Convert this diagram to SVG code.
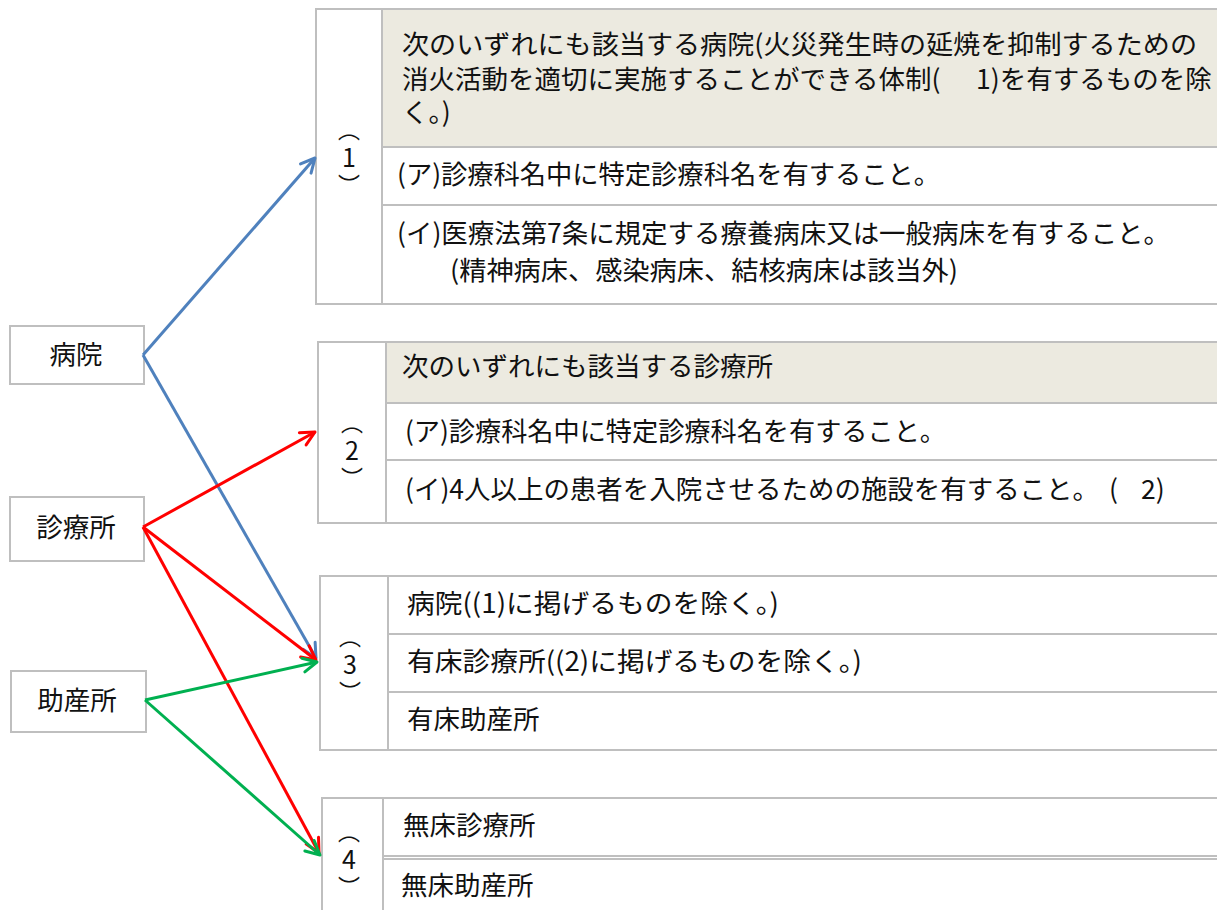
<svg xmlns="http://www.w3.org/2000/svg" width="1217" height="910" viewBox="0 0 1217 910">
<style>
text{font-family:"Noto Sans CJK JP","Noto Sans CJK SC",sans-serif;font-size:26.5px;fill:#111}
.box{fill:#fff;stroke:#BFBFBF;stroke-width:2}
.hdr{fill:#ECEAE0;stroke:none}
.ln{stroke:#BFBFBF;stroke-width:2;fill:none}
.mid{text-anchor:middle}
.vnum{font-size:22px;writing-mode:vertical-rl;text-orientation:upright;text-anchor:middle;letter-spacing:-2px}
.dg{font-size:25px}
.conn line{stroke-width:3;fill:none}
.b{stroke:#4F81BD}
.r{stroke:#FF0000}
.g{stroke:#00B050}
</style>
<defs>
<marker id="mb" viewBox="-16 -10 20 20" refX="0" refY="0" markerWidth="20" markerHeight="20" markerUnits="userSpaceOnUse" orient="auto"><path d="M-14,-7 L0,0 L-14,7" fill="none" stroke="#4F81BD" stroke-width="3" stroke-linecap="round" stroke-linejoin="round"/></marker>
<marker id="mr" viewBox="-16 -10 20 20" refX="0" refY="0" markerWidth="20" markerHeight="20" markerUnits="userSpaceOnUse" orient="auto"><path d="M-14,-7 L0,0 L-14,7" fill="none" stroke="#FF0000" stroke-width="3" stroke-linecap="round" stroke-linejoin="round"/></marker>
<marker id="mg" viewBox="-16 -10 20 20" refX="0" refY="0" markerWidth="20" markerHeight="20" markerUnits="userSpaceOnUse" orient="auto"><path d="M-14,-7 L0,0 L-14,7" fill="none" stroke="#00B050" stroke-width="3" stroke-linecap="round" stroke-linejoin="round"/></marker>
</defs>
<rect width="1217" height="910" fill="#fff"/>

<g id="table1">
<rect class="box" x="316" y="9" width="930" height="295"/>
<rect class="hdr" x="383" y="10" width="860" height="137"/>
<line class="ln" x1="382" y1="9" x2="382" y2="304"/>
<line class="ln" x1="382" y1="147" x2="1246" y2="147"/>
<line class="ln" x1="382" y1="205" x2="1246" y2="205"/>
<text x="402" y="54" textLength="795" lengthAdjust="spacingAndGlyphs">次のいずれにも該当する病院(火災発生時の延焼を抑制するための</text>
<text x="402" y="89">消火活動を適切に実施することができる体制(</text>
<text x="976" y="89">1)を有するものを除</text>
<text x="402" y="122">く。)</text>
<text x="397" y="184" textLength="543" lengthAdjust="spacingAndGlyphs">(ア)診療科名中に特定診療科名を有すること。</text>
<text x="397" y="243" textLength="773" lengthAdjust="spacingAndGlyphs">(イ)医療法第7条に規定する療養病床又は一般病床を有すること。</text>
<text x="450" y="280" textLength="508" lengthAdjust="spacingAndGlyphs">(精神病床、感染病床、結核病床は該当外)</text>
<text class="vnum" x="349" y="157"><tspan dy="-1">（</tspan><tspan class="dg" dy="6">1</tspan><tspan dy="6">）</tspan></text>
</g>

<g id="table2">
<rect class="box" x="318" y="342" width="930" height="181"/>
<rect class="hdr" x="387" y="343" width="860" height="60"/>
<line class="ln" x1="386" y1="342" x2="386" y2="523"/>
<line class="ln" x1="386" y1="403" x2="1248" y2="403"/>
<line class="ln" x1="386" y1="460" x2="1248" y2="460"/>
<text x="402" y="376">次のいずれにも該当する診療所</text>
<text x="405" y="441" textLength="541" lengthAdjust="spacingAndGlyphs">(ア)診療科名中に特定診療科名を有すること。</text>
<text x="405" y="499" textLength="694" lengthAdjust="spacingAndGlyphs">(イ)4人以上の患者を入院させるための施設を有すること。</text>
<text x="1109" y="499">(</text>
<text x="1141" y="499">2)</text>
<text class="vnum" x="352" y="450"><tspan dy="-1">（</tspan><tspan class="dg" dy="6">2</tspan><tspan dy="6">）</tspan></text>
</g>

<g id="table3">
<rect class="box" x="320" y="576" width="930" height="174"/>
<line class="ln" x1="388" y1="576" x2="388" y2="750"/>
<line class="ln" x1="388" y1="634" x2="1250" y2="634"/>
<line class="ln" x1="388" y1="692" x2="1250" y2="692"/>
<text x="407" y="613" textLength="372" lengthAdjust="spacingAndGlyphs">病院((1)に掲げるものを除く。)</text>
<text x="407" y="671" textLength="455" lengthAdjust="spacingAndGlyphs">有床診療所((2)に掲げるものを除く。)</text>
<text x="407" y="729">有床助産所</text>
<text class="vnum" x="350" y="664"><tspan dy="-1">（</tspan><tspan class="dg" dy="6">3</tspan><tspan dy="6">）</tspan></text>
</g>

<g id="table4">
<rect class="box" x="322" y="798" width="930" height="150"/>
<line class="ln" x1="383" y1="798" x2="383" y2="910"/>
<line class="ln" x1="383" y1="856" x2="1252" y2="856"/>
<line class="ln" x1="383" y1="859" x2="1252" y2="859" stroke-width="1.2"/>
<text x="403" y="835">無床診療所</text>
<text x="401" y="895">無床助産所</text>
<text class="vnum" x="349" y="859"><tspan dy="-1">（</tspan><tspan class="dg" dy="6">4</tspan><tspan dy="6">）</tspan></text>
</g>

<g id="node-byoin">
<rect class="box" x="10" y="326" width="134" height="58" stroke-width="1.5"/>
<text class="mid" x="76" y="364">病院</text>
</g>
<g id="node-shinryojo">
<rect class="box" x="10" y="497" width="134" height="64" stroke-width="1.5"/>
<text class="mid" x="76" y="537">診療所</text>
</g>
<g id="node-josanjo">
<rect class="box" x="11" y="671" width="135" height="61" stroke-width="1.5"/>
<text class="mid" x="77" y="710">助産所</text>
</g>

<g id="connectors" class="conn">
<line class="b" x1="143" y1="355" x2="315" y2="158" marker-end="url(#mb)"/>
<line class="b" x1="143" y1="355" x2="316" y2="658" marker-end="url(#mb)"/>
<line class="r" x1="143" y1="527" x2="315" y2="432" marker-end="url(#mr)"/>
<line class="r" x1="143" y1="527" x2="316" y2="660" marker-end="url(#mr)"/>
<line class="r" x1="143" y1="527" x2="319" y2="853" marker-end="url(#mr)"/>
<line class="g" x1="145" y1="700" x2="317" y2="662" marker-end="url(#mg)"/>
<line class="g" x1="145" y1="700" x2="320" y2="855" marker-end="url(#mg)"/>
</g>
</svg>
